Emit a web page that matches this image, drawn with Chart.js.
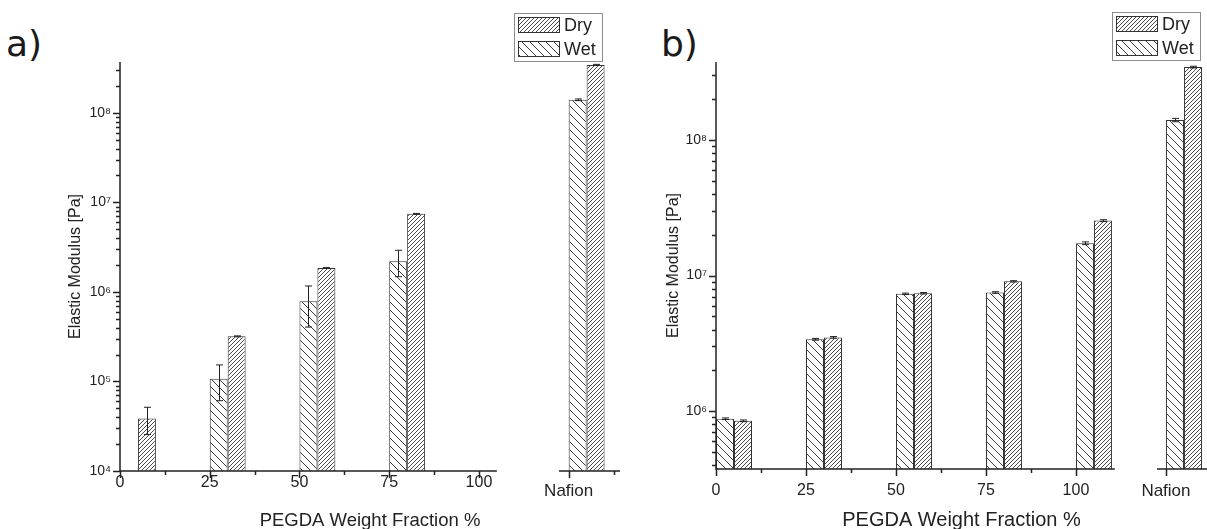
<!DOCTYPE html>
<html>
<head>
<meta charset="utf-8">
<script src="https://cdn.jsdelivr.net/npm/chart.js@4.4.0/dist/chart.umd.min.js"></script>
<style>
   body { margin: 0; background: #fff; width: 1207px; height: 529px; overflow: hidden; position: relative; }
   canvas { position: absolute; top: 0; }
   #chartA { left: 0; }
   #chartB { left: 625px; }
   .panel-tag { position: absolute; font-family: "DejaVu Sans", sans-serif; font-size: 36px; line-height: 36px; color: #1a1a1a; }
</style>
</head>
<body>
<div class="panel-tag" style="left:6px;top:26px">a)</div>
<div class="panel-tag" style="left:661px;top:26px">b)</div>
<canvas id="chartA" width="625" height="529"></canvas>
<canvas id="chartB" width="582" height="529"></canvas>
<script>
// #region Data
// PEGDA weight fraction groups; Nafion sits past the axis break
const fractionLbls = ['0', '25', '50', '75', '100', 'Nafion'];
const fractionVals = [0, 25, 50, 75, 100, 125];

// panel a) elastic modulus [Pa]
const dryA    = [3.85e4, 3.19e5, 1.85e6, 7.45e6, null, 3.43e8];
const dryErrA = [1.3e4, 4e3, 2e4, 8e4, null, 5e6];
const wetA    = [null, 1.07e5, 7.85e5, 2.2e6, null, 1.4e8];
const wetErrA = [null, 4.6e4, 3.8e5, 7.2e5, null, 3e6];

// panel b) elastic modulus [Pa]
const dryB    = [8.5e5, 3.5e6, 7.4e6, 9.06e6, 2.54e7, 3.44e8];
const dryErrB = [1.2e4, 5e4, 9e4, 1e5, 4e5, 5e6];
const wetB    = [8.8e5, 3.39e6, 7.33e6, 7.5e6, 1.73e7, 1.4e8];
const wetErrB = [1.2e4, 5e4, 9e4, 1e5, 4e5, 4e6];
// #endregion

const FONT = '"Liberation Sans", Arial, sans-serif';
const INK = '#222';
const barGroupShift = 5;   // pair of bars starts at the tick
const SUP = {'0':'⁰','1':'¹','2':'²','3':'³','4':'⁴','5':'⁵','6':'⁶','7':'⁷','8':'⁸','9':'⁹'};

Chart.defaults.font.family = FONT;
Chart.defaults.color = INK;

// ***********************
// Name:    makeHatch
// Purpose: builds a diagonal hatch pattern used as bar fill
// *************************
function makeHatch(size, dir, color) {
   const c = document.createElement('canvas');
   c.width = size;
   c.height = size;
   const g = c.getContext('2d');
   g.fillStyle = '#fff';
   g.fillRect(0, 0, size, size);
   g.strokeStyle = color;
   g.lineWidth = 1;
   g.beginPath();
   for (const o of [-size, 0, size]) {
      if (dir === '/') {
         g.moveTo(o, size);
         g.lineTo(o + size, 0);
      }
      else {
         g.moveTo(o, 0);
         g.lineTo(o + size, size);
      }
   }
   g.stroke();
   return g.createPattern(c, 'repeat');
}

const dryHatch = makeHatch(4, '/', '#4a4a4a');
const wetHatch = makeHatch(8, '\\', '#3a3a3a');

function logTicks(min, max) {
   let ticks = [];
   for (let k = Math.floor(Math.log10(min)); k <= Math.ceil(Math.log10(max)); k++) {
      for (let m = 1; m <= 9; m++) {
         let v = m * Math.pow(10, k);
         if (v >= min * 0.999 && v <= max * 1.001) ticks.push(v);
      }
   }
   return ticks;
}

function isDecade(v) {
   let e = Math.log10(v);
   return Math.abs(e - Math.round(e)) < 1e-6;
}

function decadeLabel(v) {
   if (!isDecade(v)) return '';
   return '10' + String(Math.round(Math.log10(v))).split('').map(d => SUP[d]).join('');
}

function toPoints(vals) {
   return fractionVals.map((f, i) => ({ x: f + barGroupShift, y: vals[i] }));
}

// #region Plugins
const axisPainter = {
   id: 'axisPainter',
   afterDraw(chart, args, opts) {
      const { ctx, chartArea, scales: { x, y } } = chart;
      ctx.save();
      ctx.strokeStyle = INK;
      ctx.lineWidth = 1.5;

      // y axis with major / minor marks
      ctx.beginPath();
      ctx.moveTo(chartArea.left, chartArea.top);
      ctx.lineTo(chartArea.left, chartArea.bottom + 0.75);
      y.ticks.forEach(t => {
         let py = Math.round(y.getPixelForValue(t.value)) + 0.5;
         let len = isDecade(t.value) ? 7 : 4;
         ctx.moveTo(chartArea.left, py);
         ctx.lineTo(chartArea.left - len, py);
      });
      ctx.stroke();

      // broken x axis
      const inSeg = v => opts.segments.some(s => v >= s[0] - 0.01 && v <= s[1] + 0.01);
      ctx.beginPath();
      opts.segments.forEach(s => {
         ctx.moveTo(x.getPixelForValue(s[0]), chartArea.bottom);
         ctx.lineTo(Math.min(x.getPixelForValue(s[1]), chart.width), chartArea.bottom);
      });
      x.ticks.forEach(t => {
         [[t.value, 7], [t.value + opts.minorStep, 4]].forEach(([v, len]) => {
            if (!inSeg(v)) return;
            let px = Math.round(x.getPixelForValue(v)) + 0.5;
            ctx.moveTo(px, chartArea.bottom);
            ctx.lineTo(px, chartArea.bottom + len);
         });
      });
      ctx.stroke();
      ctx.restore();
   }
};

const errorBars = {
   id: 'errorBars',
   afterDatasetsDraw(chart) {
      const { ctx, scales: { y } } = chart;
      ctx.save();
      ctx.strokeStyle = INK;
      ctx.lineWidth = 1;
      chart.data.datasets.forEach((ds, di) => {
         const meta = chart.getDatasetMeta(di);
         meta.data.forEach((bar, i) => {
            let v = ds.data[i].y;
            let e = ds.errors[i];
            if (v == null || e == null) return;
            let px = Math.round(bar.x) + 0.5;
            let top = y.getPixelForValue(v + e);
            let bot = y.getPixelForValue(v - e);
            ctx.beginPath();
            ctx.moveTo(px, top);
            ctx.lineTo(px, bot);
            ctx.moveTo(px - 3.5, top);
            ctx.lineTo(px + 3.5, top);
            ctx.moveTo(px - 3.5, bot);
            ctx.lineTo(px + 3.5, bot);
            ctx.stroke();
         });
      });
      ctx.restore();
   }
};

const boxLegend = {
   id: 'boxLegend',
   afterDraw(chart, args, opts) {
      const ctx = chart.ctx;
      const items = chart.data.datasets.slice().reverse();   // Dry first
      ctx.save();
      ctx.lineWidth = 1;
      ctx.strokeStyle = '#8c8c8c';
      ctx.strokeRect(opts.left + 0.5, opts.top + 0.5, 88, 48);
      ctx.font = '18px ' + FONT;
      ctx.textBaseline = 'middle';
      items.forEach((ds, i) => {
         let sy = opts.top + 4 + i * 24;
         ctx.fillStyle = ds.backgroundColor;
         ctx.fillRect(opts.left + 4, sy, 42, 16);
         ctx.strokeStyle = '#333';
         ctx.strokeRect(opts.left + 4.5, sy + 0.5, 41, 15);
         ctx.fillStyle = INK;
         ctx.fillText(ds.label, opts.left + 50, sy + 9);
      });
      ctx.restore();
   }
};
// #endregion

// ***********************
// Name:    buildPanel
// Purpose: draws one panel (bars, broken axis, legend)
// *************************
function buildPanel(canvasId, p) {
   return new Chart(document.getElementById(canvasId), {
      type: 'bar',
      data: {
         datasets: [
            { label: 'Wet', data: toPoints(p.wet), errors: p.wetErr, backgroundColor: wetHatch, borderColor: '#333', borderWidth: 1 },
            { label: 'Dry', data: toPoints(p.dry), errors: p.dryErr, backgroundColor: dryHatch, borderColor: '#333', borderWidth: 1 }
         ]
      },
      options: {
         responsive: false,
         animation: false,
         events: [],
         devicePixelRatio: 1,
         categoryPercentage: 0.4,
         barPercentage: 1,
         layout: { padding: { left: p.padLeft, right: p.padRight, top: 62, bottom: 0 } },
         plugins: {
            legend: { display: false },
            tooltip: { enabled: false },
            axisPainter: { segments: p.segments, minorStep: 12.5 },
            boxLegend: { left: p.legendLeft, top: p.legendTop }
         },
         scales: {
            x: {
               type: 'linear',
               min: 0,
               max: p.xMax,
               offset: false,
               grid: { display: false, drawTicks: false },
               border: { display: false },
               afterBuildTicks: s => { s.ticks = fractionVals.map(v => ({ value: v })); },
               afterFit: s => { s.height = p.xAxisHeight; },
               ticks: {
                  autoSkip: false,
                  maxRotation: 0,
                  padding: p.xTickPad,
                  font: ctx => (ctx.tick && ctx.tick.value === 125) ? { size: 17, lineHeight: p.nafionLine } : { size: 16 },
                  callback: v => fractionLbls[fractionVals.indexOf(v)]
               },
               title: { display: true, text: 'PEGDA Weight Fraction %', font: { size: p.xTitleSize }, padding: { top: 0, bottom: -3 } }
            },
            y: {
               type: 'logarithmic',
               min: p.yMin,
               max: p.yMax,
               grid: { display: false, drawTicks: false },
               border: { display: false },
               afterBuildTicks: s => { s.ticks = logTicks(p.yMin, p.yMax).map(v => ({ value: v })); },
               afterFit: s => { s.width = p.yAxisWidth; },
               ticks: { autoSkip: false, padding: 9, font: { size: 14 }, callback: v => decadeLabel(v) },
               title: { display: true, text: 'Elastic Modulus [Pa]', font: { size: 16 }, padding: 0 }
            }
         }
      },
      plugins: [axisPainter, errorBars, boxLegend]
   });
}

buildPanel('chartA', {
   dry: dryA, dryErr: dryErrA, wet: wetA, wetErr: wetErrA,
   yMin: 1e4, yMax: 3.7e8, xMax: 139.3,
   segments: [[0, 105], [122.3, 139.3]],
   padLeft: 66, padRight: 5, yAxisWidth: 54, xAxisHeight: 58,
   xTickPad: 2, nafionLine: 2.1, xTitleSize: 18.5,
   legendLeft: 514, legendTop: 13
});

buildPanel('chartB', {
   dry: dryB, dryErr: dryErrB, wet: wetB, wetErr: wetErrB,
   yMin: 3.75e5, yMax: 3.75e8, xMax: 136.4,
   segments: [[0, 110.8], [122.5, 136.4]],
   padLeft: 39, padRight: 0, yAxisWidth: 52, xAxisHeight: 60,
   xTickPad: 12, nafionLine: 1.2, xTitleSize: 20,
   legendLeft: 487, legendTop: 12
});
</script>
</body>
</html>
